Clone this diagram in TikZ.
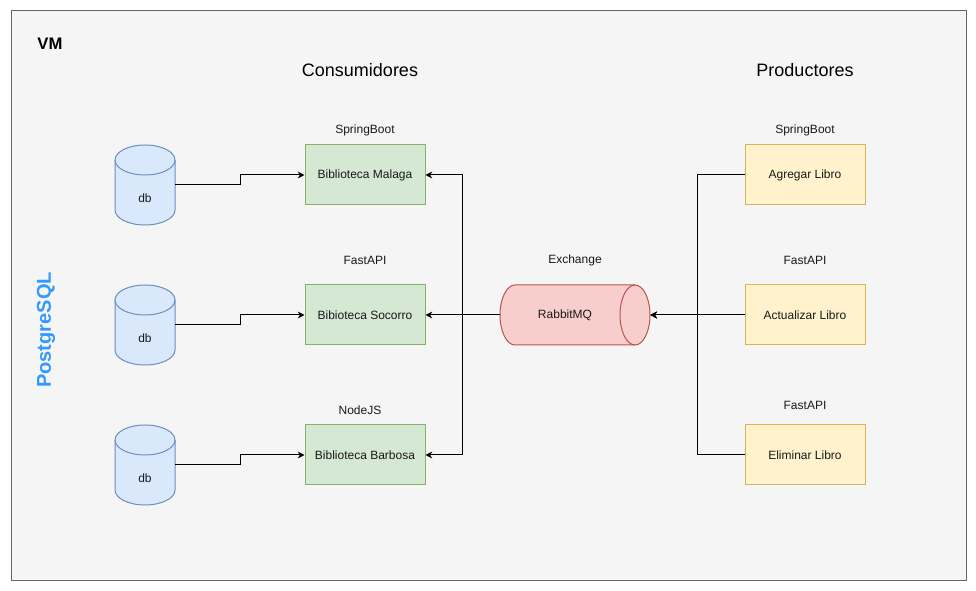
\documentclass[tikz,border=0pt]{standalone}
\usepackage{fontspec}
\setmainfont{Liberation Sans}
\usetikzlibrary{arrows.meta,calc}
\definecolor{vmfill}{HTML}{F5F5F5}
\definecolor{vmdraw}{HTML}{666666}
\definecolor{dbfill}{HTML}{DAE8FC}
\definecolor{dbdraw}{HTML}{6C8EBF}
\definecolor{gfill}{HTML}{D5E8D4}
\definecolor{gdraw}{HTML}{82B366}
\definecolor{yfill}{HTML}{FFF2CC}
\definecolor{ydraw}{HTML}{D6B656}
\definecolor{rfill}{HTML}{F8CECC}
\definecolor{rdraw}{HTML}{B85450}
\definecolor{pgblue}{HTML}{3399FF}
\begin{document}
\begin{tikzpicture}[x=0.75pt,y=-0.75pt,
  small/.style={font=\fontsize{9pt}{11pt}\selectfont, text=black!90},
  title/.style={font=\fontsize{13.5pt}{16pt}\selectfont},
  box/.style={rectangle, minimum width=90pt, minimum height=45pt, line width=0.75pt, small},
  cons/.style={box, fill=gfill, draw=gdraw},
  prod/.style={box, fill=yfill, draw=ydraw},
  anchorbox/.style={rectangle, draw=none, inner sep=0pt},
  cyl/.style={fill=dbfill, draw=dbdraw, line width=0.75pt},
  conn/.style={draw=black, line width=0.75pt, -{Stealth[length=5pt,width=5pt,inset=1.5pt]}}
]
\useasboundingbox (0,0) rectangle (976,591);
\node[rectangle, fill=vmfill, draw=vmdraw, line width=0.75pt, minimum width=716.25pt, minimum height=427.5pt, anchor=north west] (vm) at (10.5,10.5) {};
\node[font=\bfseries\fontsize{12.5pt}{15pt}\selectfont] (vml) at (50,44) {VM};
\node[title] (tc) at (360,70) {Consumidores};
\node[title] (tp) at (805,70) {Productores};
\node[font=\bfseries\fontsize{15pt}{18pt}\selectfont, text=pgblue, rotate=90] (pg) at (46,330) {PostgreSQL};

% databases
\foreach \n/\cy in {1/185,2/325,3/465}{
  \draw[cyl] (115,\cy-25) -- (115,\cy+25) arc[start angle=180,end angle=0,x radius=30,y radius=15]
     -- (175,\cy-25) arc[start angle=0,end angle=-180,x radius=30,y radius=15] -- cycle;
  \draw[cyl, fill=none] (115,\cy-25) arc[start angle=180,end angle=0,x radius=30,y radius=15];
  \node[anchorbox, minimum width=45pt, minimum height=60pt] (db\n) at (145,\cy) {};
  \node[small] (dbl\n) at (145,\cy+13) {db};
}

% consumers
\node[cons] (m1) at (365,175) {Biblioteca Malaga};
\node[cons] (m2) at (365,315) {Bibioteca Socorro};
\node[cons] (m3) at (365,455) {Biblioteca Barbosa};
\node[small] (l1) at (365,130) {SpringBoot};
\node[small] (l2) at (365,260) {FastAPI};
\node[small] (l3) at (360,410) {NodeJS};

% producers
\node[prod] (p1) at (805,175) {Agregar Libro};
\node[prod] (p2) at (805,315) {Actualizar Libro};
\node[prod] (p3) at (805,455) {Eliminar Libro};
\node[small] (l4) at (805,130) {SpringBoot};
\node[small] (l5) at (805,260) {FastAPI};
\node[small] (l6) at (805,405) {FastAPI};

% rabbitmq
\draw[fill=rfill, draw=rdraw, line width=0.75pt] (515,285) -- (635,285)
   arc[start angle=-90,end angle=90,x radius=15,y radius=30] -- (515,345)
   arc[start angle=90,end angle=270,x radius=15,y radius=30] -- cycle;
\draw[draw=rdraw, line width=0.75pt] (635,285) arc[start angle=-90,end angle=-270,x radius=15,y radius=30];
\node[anchorbox, minimum width=112.5pt, minimum height=45pt] (rmq) at (575,315) {};
\node[small] (rl) at (565,315) {RabbitMQ};
\node[small] (ex) at (575,260) {Exchange};

% connectors
\foreach \i in {1,2,3}{
  \draw[conn] (db\i.east) -- ++(65,0) |- (m\i.west);
}
\draw[conn] (rmq.west) -- (m2.east);
\draw[conn] (rmq.west) -- ++(-37,0) |- (m1.east);
\draw[conn] (rmq.west) -- ++(-37,0) |- (m3.east);
\draw[conn] (p2.west) -- (rmq.east);
\draw[conn] (p1.west) -- ++(-47,0) |- (rmq.east);
\draw[conn] (p3.west) -- ++(-47,0) |- (rmq.east);
\end{tikzpicture}
\end{document}
